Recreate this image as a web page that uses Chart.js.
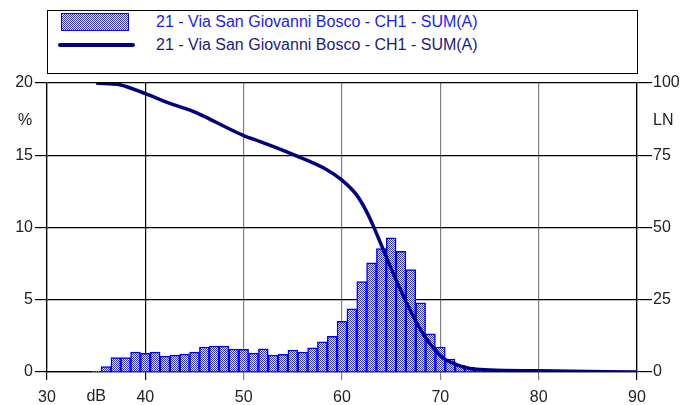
<!DOCTYPE html>
<html>
<head>
<meta charset="utf-8">
<script src="https://cdn.jsdelivr.net/npm/chart.js@4"></script>
<style>
    html, body { margin: 0; padding: 0; background: #fff; }
    #wrap { position: relative; width: 695px; height: 405px; font-family: "Liberation Sans", Arial, sans-serif; }
    #legend { position: absolute; left: 47px; top: 10px; width: 589px; height: 62px; border: 1px solid #000; background: #fff; }
    .sw-bar { position: absolute; left: 13px; top: 2px; width: 66px; height: 16px; border: 1.5px solid #0000ff; }
    .sw-line { position: absolute; left: 10px; top: 32px; width: 77px; height: 4px; border-radius: 2px; background: #000080; }
    .lg-text { position: absolute; left: 108px; font-size: 16px; line-height: 18px; white-space: nowrap; }
</style>
</head>
<body>
<div id="wrap">
    <canvas id="chart" width="695" height="405"></canvas>
    <div id="legend">
        <div class="sw-bar" id="swBar"></div>
        <div class="lg-text" style="top:2px;color:#1a1aff;">21 - Via San Giovanni Bosco - CH1 - SUM(A)</div>
        <div class="sw-line"></div>
        <div class="lg-text" style="top:25px;color:#1a1a80;">21 - Via San Giovanni Bosco - CH1 - SUM(A)</div>
    </div>
</div>
<script>
// Level distribution (percent of time per 1 dB class)
const binLevels = [35, 36, 37, 38, 39, 40, 41, 42, 43, 44, 45, 46, 47, 48, 49, 50, 51, 52, 53, 54,
                   55, 56, 57, 58, 59, 60, 61, 62, 63, 64, 65, 66, 67, 68, 69, 70, 71, 72, 73, 74,
                   75, 76, 77, 78, 79, 80];
const binPercent = [0.05, 0.37, 1.0, 1.0, 1.38, 1.29, 1.38, 1.1, 1.17, 1.24, 1.38, 1.73, 1.8, 1.8, 1.59, 1.57, 1.31, 1.61, 1.17, 1.22,
                    1.52, 1.38, 1.68, 2.08, 2.47, 3.5, 4.38, 6.25, 7.55, 8.54, 9.28, 8.35, 7.08, 4.78, 2.65, 1.73, 0.9, 0.46, 0.32, 0.18,
                    0.1, 0.06, 0.04, 0.03, 0.02, 0.01];

// Cumulative LN curve (percent of time level exceeded)
const lnLevels = [35, 35.8, 37.4, 40, 42.85, 44.55, 46.2, 47.9, 49.95, 51.67, 52.7, 55.06, 58.45, 60, 61.5,
                  62.5, 63.2, 64.2, 65.2, 66.25, 67.26, 68.3, 69.3, 70.3, 71.7, 73, 75, 80, 90];
const lnValues = [100, 99.8, 99.4, 96.3, 92.5, 90.6, 88.1, 85.2, 81.9, 79.7, 78.4, 75.2, 70, 66.4, 61.2,
                  55.5, 50.4, 42.3, 34.2, 26.2, 19.2, 12.9, 8.3, 4.8, 2.5, 1.2, 0.7, 0.4, 0];

const leftTicks = [0, 5, 10, 15, 20];
const rightTicks = [0, 25, 50, 75, 100];
const xTicks = [30, 40, 50, 60, 70, 80, 90];

const FONT = { family: '"Liberation Sans", Arial, sans-serif', size: 16 };
const TEXT = '#222';

// dithered blue/white fill like the original
function checkerCanvas() {
    const c = document.createElement('canvas');
    c.width = 2; c.height = 2;
    const g = c.getContext('2d');
    g.fillStyle = '#ffffff'; g.fillRect(0, 0, 2, 2);
    g.fillStyle = '#2a2aff'; g.fillRect(0, 0, 1, 1); g.fillRect(1, 1, 1, 1);
    return c;
}
const tile = checkerCanvas();
const swBar = document.getElementById('swBar');
swBar.style.backgroundImage = `url(${tile.toDataURL()})`;
swBar.style.imageRendering = 'pixelated';

const extraText = {
    id: 'extraText',
    afterDraw(chart) {
        const { ctx, scales } = chart;
        ctx.save();
        ctx.font = `${FONT.size}px ${FONT.family}`;
        ctx.fillStyle = TEXT;
        ctx.textBaseline = 'middle';
        ctx.textAlign = 'center';
        ctx.fillText('dB', scales.x.getPixelForValue(35), 397);
        ctx.fillText('%', 25, scales.y.getPixelForValue(17.4));
        ctx.textAlign = 'left';
        ctx.fillText('LN', 653, scales.y.getPixelForValue(17.4));
        ctx.restore();
    }
};

const ctx = document.getElementById('chart').getContext('2d');
new Chart(ctx, {
    data: {
        datasets: [
            {
                type: 'line',
                label: '21 - Via San Giovanni Bosco - CH1 - SUM(A)',
                data: lnLevels.map((x, i) => ({ x, y: lnValues[i] })),
                yAxisID: 'y1',
                borderColor: '#000080',
                borderWidth: 3.5,
                pointRadius: 0,
                cubicInterpolationMode: 'monotone',
                order: 0,
            },
            {
                type: 'bar',
                label: '21 - Via San Giovanni Bosco - CH1 - SUM(A)',
                data: binLevels.map((x, i) => ({ x, y: binPercent[i] })),
                yAxisID: 'y',
                backgroundColor: ctx.createPattern(tile, 'repeat'),
                borderColor: '#0000ff',
                borderWidth: 1.5,
                barPercentage: 1,
                categoryPercentage: 1,
                order: 1,
            },
        ]
    },
    options: {
        responsive: false,
        animation: false,
        layout: { padding: { top: 83, left: 0, right: 0, bottom: 0 } },
        plugins: { legend: { display: false }, tooltip: { enabled: false } },
        scales: {
            x: {
                type: 'linear',
                min: 30, max: 90,
                offset: false,
                afterBuildTicks: s => { s.ticks = xTicks.map(v => ({ value: v })); },
                afterFit: s => { s.height = 33; },
                ticks: { font: FONT, color: TEXT, padding: 8, maxRotation: 0 },
                grid: {
                    offset: false,
                    color: c => (c.tick && (c.tick.value === 40 || c.tick.value === 30 || c.tick.value === 90)) ? '#000' : '#808080',
                    lineWidth: 1.2,
                    tickLength: 8,
                },
                border: { color: '#000', width: 1.2 },
            },
            y: {
                position: 'left',
                min: 0, max: 20,
                afterBuildTicks: s => { s.ticks = leftTicks.map(v => ({ value: v })); },
                afterFit: s => { s.width = 47; },
                ticks: { font: FONT, color: TEXT, padding: 2 },
                grid: { color: '#000', lineWidth: 1.2, tickLength: 12 },
                border: { color: '#000', width: 1.2 },
            },
            y1: {
                position: 'right',
                min: 0, max: 100,
                afterBuildTicks: s => { s.ticks = rightTicks.map(v => ({ value: v })); },
                afterFit: s => { s.width = 58; },
                ticks: { font: FONT, color: TEXT, padding: 1 },
                grid: { drawOnChartArea: false, color: '#000', lineWidth: 1.2, tickLength: 15 },
                border: { color: '#000', width: 1.2 },
            },
        }
    },
    plugins: [extraText],
});
</script>
</body>
</html>
